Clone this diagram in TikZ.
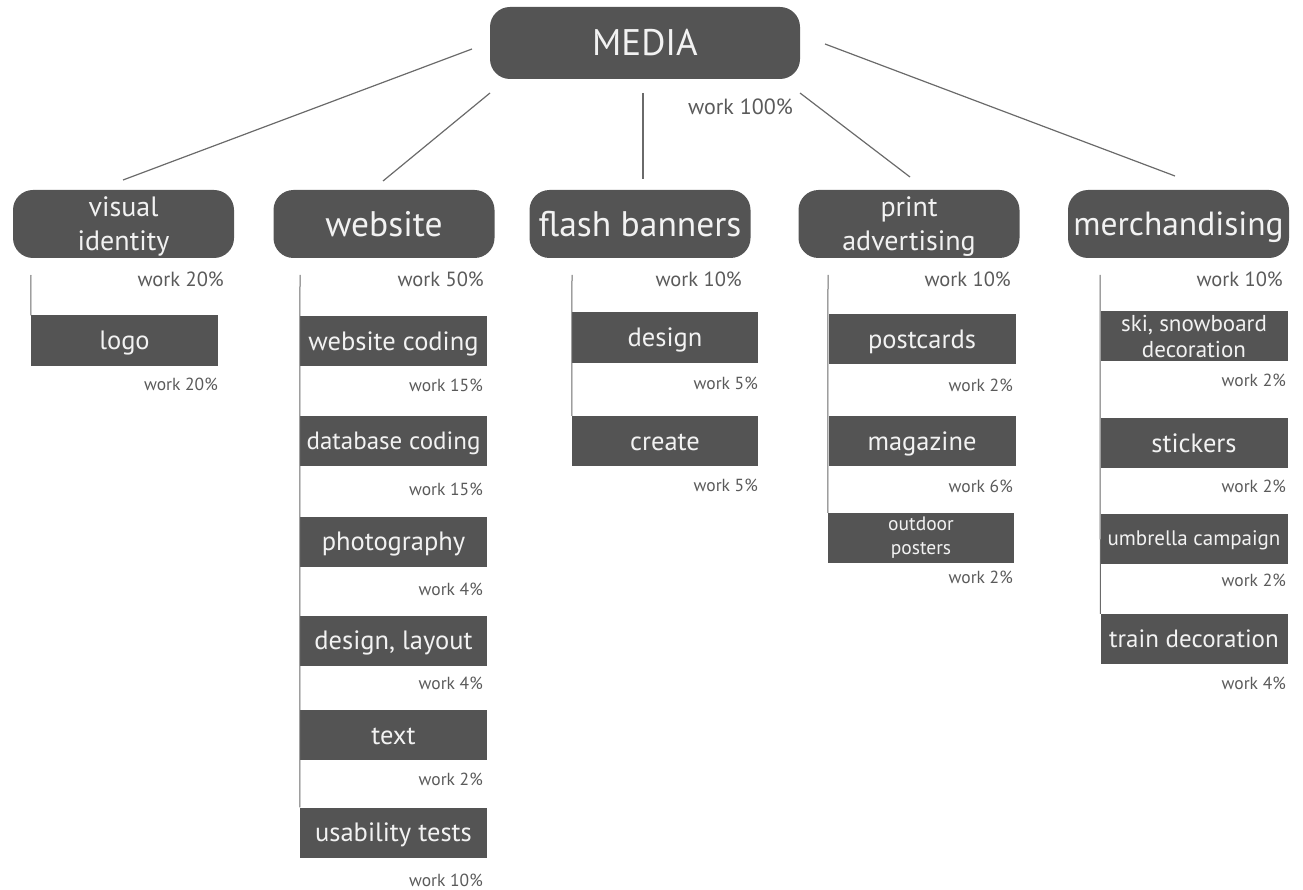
\documentclass[tikz,border=0pt]{standalone}
\usepackage{fontspec}
\setmainfont{PT Sans}
\definecolor{boxgray}{HTML}{545454}
\definecolor{boxtext}{HTML}{F2F2F2}
\definecolor{labgray}{HTML}{5A5A5A}
\definecolor{linegray}{HTML}{6A6A6A}
\begin{document}
\begin{tikzpicture}[x=1pt,y=-1pt,
  rootbox/.style={rounded corners=20pt, fill=boxgray, text=boxtext,
    minimum width=310pt, minimum height=72pt, inner sep=0pt,
    text height=26pt, text depth=0pt, font=\fontsize{37}{40}\selectfont},
  areabox/.style={rounded corners=20pt, fill=boxgray, text=boxtext,
    minimum width=221pt, minimum height=68pt, inner sep=0pt, align=center,
    text height=25pt, text depth=0pt, font=\fontsize{35.5}{40}\selectfont},
  areatwo/.style={rounded corners=20pt, fill=boxgray, text=boxtext,
    minimum width=221pt, minimum height=68pt, inner sep=0pt, align=center,
    text depth=0pt, font=\fontsize{28}{34}\selectfont},
  taskbox/.style={fill=boxgray, text=boxtext, minimum width=187pt,
    minimum height=50pt, inner sep=0pt, align=center,
    text height=18.5pt, text depth=0pt, font=\fontsize{26.5}{30}\selectfont},
  tasktwo/.style={fill=boxgray, text=boxtext, minimum width=187pt,
    minimum height=50pt, inner sep=0pt, align=center},
  worklab/.style={anchor=east, text=labgray, inner sep=0pt,
    font=\fontsize{17.5}{20}\selectfont},
  workmid/.style={worklab, font=\fontsize{20.5}{24}\selectfont},
  link/.style={draw=linegray, line width=1.2pt},
  stem/.style={draw=linegray, line width=1pt},
]
\useasboundingbox (0,0) rectangle (1303,890);

% root
\node[rootbox] (media) at (645,43) {MEDIA};
\node[worklab, font=\fontsize{22}{26}\selectfont] (mediaw) at (793,107) {work 100\%};

% areas
\node[areatwo] (vis) at (123.5,224) {visual\\identity};
\node[areabox] (web) at (384,224) {website};
\node[areabox] (fla) at (640,224) {flash banners};
\node[areatwo] (pri) at (909,224) {print\\advertising};
\node[areabox, font=\fontsize{33.5}{40}\selectfont, text height=23.5pt] (mer) at (1178.5,224) {merchandising};

\node[workmid] (visw) at (224,279) {work 20\%};
\node[workmid] (webw) at (484,279) {work 50\%};
\node[workmid] (flaw) at (742,279) {work 10\%};
\node[workmid] (priw) at (1011,279) {work 10\%};
\node[workmid] (merw) at (1283,279) {work 10\%};

% links from the root to the areas
\coordinate (r1) at (472,49);   \coordinate (a1) at (123,180);
\coordinate (r2) at (490,93);   \coordinate (a2) at (383,181);
\coordinate (r3) at (643,93);   \coordinate (a3) at (643,179);
\coordinate (r4) at (800,93);   \coordinate (a4) at (910,177);
\coordinate (r5) at (825,44);   \coordinate (a5) at (1175,176);
\draw[link] (r1) -- (a1);
\draw[link] (r2) -- (a2);
\draw[link] (r3) -- (a3);
\draw[link] (r4) -- (a4);
\draw[link] (r5) -- (a5);

% visual identity
\node[taskbox] (logo) at (124.5,340.5) {logo};
\node[worklab] (logow) at (218,384) {work 20\%};
\coordinate (visstem) at (31,275);
\draw[stem] (visstem) -- (logo.north west);

% website
\node[taskbox] (wc) at (393.5,341) {website coding};
\node[taskbox, font=\fontsize{25}{30}\selectfont, text height=17.5pt] (dc) at (393.5,441) {database coding};
\node[taskbox] (ph) at (393.5,541.5) {photography};
\node[taskbox] (dl) at (393.5,640.5) {design, layout};
\node[taskbox] (tx) at (393.5,735) {text};
\node[taskbox] (ut) at (393.5,832.5) {usability tests};
\node[worklab] (wcw) at (483,385) {work 15\%};
\node[worklab] (dcw) at (483,489) {work 15\%};
\node[worklab] (phw) at (483,589) {work 4\%};
\node[worklab] (dlw) at (483,683) {work 4\%};
\node[worklab] (txw) at (483,779) {work 2\%};
\node[worklab] (utw) at (483,880) {work 10\%};
\coordinate (webstem) at (300,275);
\draw[stem] (webstem) -- (ut.north west);

% flash banners
\node[taskbox, minimum width=186pt] (de) at (665,337.5) {design};
\node[taskbox, minimum width=186pt] (cr) at (665,441) {create};
\node[worklab] (dew) at (758,383) {work 5\%};
\node[worklab] (crw) at (758,485) {work 5\%};
\coordinate (flastem) at (572,275);
\draw[stem] (flastem) -- (cr.north west);

% print advertising
\node[taskbox] (pc) at (922,339) {postcards};
\node[taskbox] (mg) at (922,441) {magazine};
\node[tasktwo, minimum width=186pt, font=\fontsize{19.5}{24}\selectfont] (od) at (921,538) {outdoor\\posters};
\node[worklab] (pcw) at (1013,385) {work 2\%};
\node[worklab] (mgw) at (1013,486) {work 6\%};
\node[worklab] (odw) at (1013,577) {work 2\%};
\coordinate (pristem) at (828,275);
\draw[stem] (pristem) -- (od.north west);

% merchandising
\node[tasktwo, font=\fontsize{23}{26}\selectfont] (sk) at (1194,336) {ski, snowboard\\decoration};
\node[taskbox] (st) at (1194,443) {stickers};
\node[taskbox, font=\fontsize{21}{24}\selectfont, text height=14.7pt] (um) at (1194,538.5) {umbrella campaign};
\node[taskbox, font=\fontsize{25}{28}\selectfont, text height=17.5pt] (tr) at (1194,639) {train decoration};
\node[worklab] (skw) at (1286,380) {work 2\%};
\node[worklab] (stw) at (1286,486) {work 2\%};
\node[worklab] (umw) at (1286,580) {work 2\%};
\node[worklab] (trw) at (1286,683) {work 4\%};
\coordinate (merstem) at (1100,275);
\draw[stem] (merstem) -- (tr.north west);
\end{tikzpicture}
\end{document}
